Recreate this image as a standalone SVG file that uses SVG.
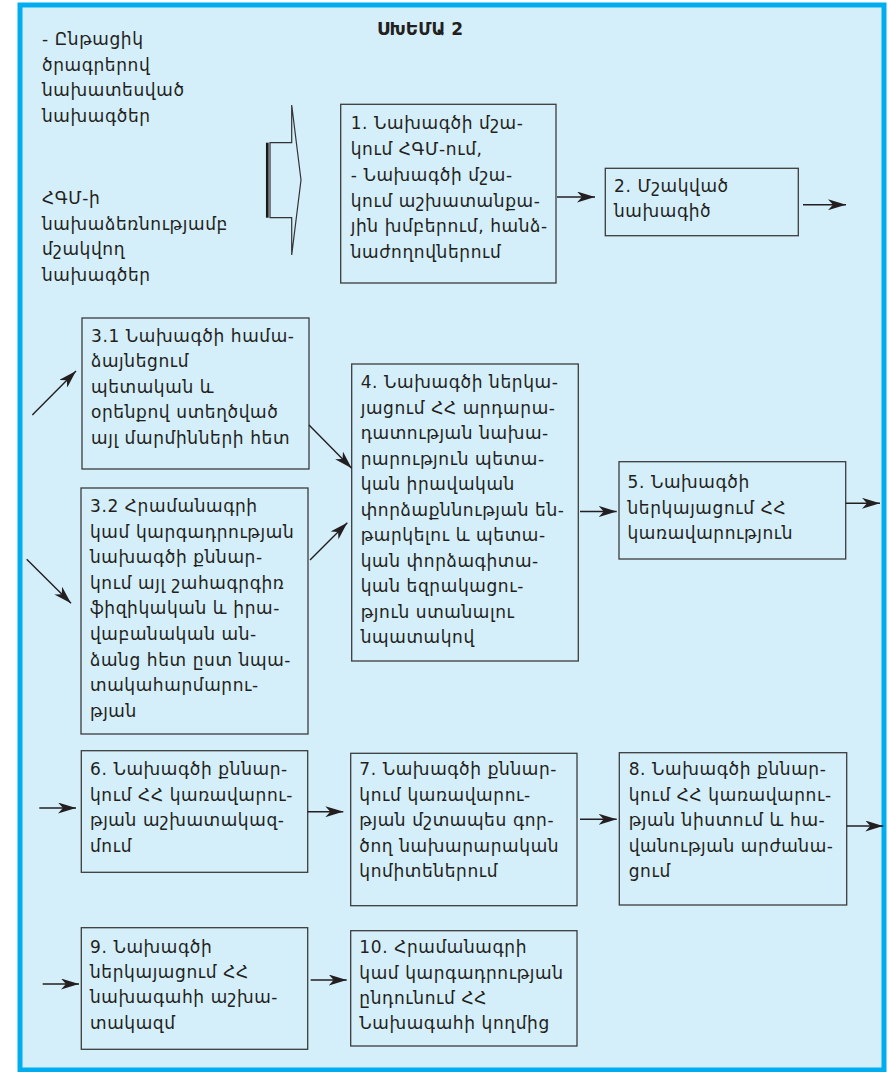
<svg xmlns="http://www.w3.org/2000/svg" width="888" height="1072" viewBox="0 0 888 1072">
<defs>
<style>
.bg{fill:#d4eefa;stroke:#00aeef;stroke-width:5}
.box{fill:#d4eefa;stroke:#3c3c3c;stroke-width:1.3}
.t{font-family:"DejaVu Sans",sans-serif;font-size:17px;letter-spacing:0.6px;fill:#231f20}
.title{font-family:"DejaVu Sans",sans-serif;font-size:17px;font-weight:bold;fill:#231f20}
.c line{stroke:#231f20;stroke-width:1.4;marker-end:url(#ah)}
</style>
<marker id="ah" viewBox="0 0 18 11" refX="18" refY="5.5" markerWidth="18" markerHeight="11" markerUnits="userSpaceOnUse" orient="auto">
<path d="M0,0 L18,5.5 L0,11 L5,5.5 Z" fill="#231f20"/>
</marker>
</defs>
<rect class="bg" x="20" y="5" width="864" height="1065"/>
<text class="title" x="377" y="35">ՍԽԵՄԱ 2</text>

<g id="sources">
<text class="t"><tspan x="42" y="45">- Ընթացիկ</tspan><tspan x="42" y="70.5">ծրագրերով</tspan><tspan x="42" y="96">նախատեսված</tspan><tspan x="42" y="121.5">նախագծեր</tspan></text>
<text class="t"><tspan x="42" y="204">ՀԳՄ-ի</tspan><tspan x="42" y="229.5">նախաձեռնությամբ</tspan><tspan x="42" y="255">մշակվող</tspan><tspan x="42" y="280.5">նախագծեր</tspan></text>
</g>

<g id="big-arrow">
<line x1="267.3" y1="142.7" x2="267.3" y2="217.7" stroke="#1a1a1a" stroke-width="2.7"/>
<polygon points="270,142.7 291.7,142.7 291.7,105 301,180 291.7,255 291.7,217.7 270,217.7 Z" fill="none" stroke="#333" stroke-width="1.2"/>
</g>

<g id="n1">
<rect class="box" x="340.7" y="104.3" width="215.3" height="178.7"/>
<text class="t"><tspan x="350.7" y="129">1. Նախագծի մշա-</tspan><tspan x="350.7" y="155">կում ՀԳՄ-ում,</tspan><tspan x="350.7" y="181">- Նախագծի մշա-</tspan><tspan x="350.7" y="206.7">կում աշխատանքա-</tspan><tspan x="350.7" y="232.3">յին խմբերում, հանձ-</tspan><tspan x="350.7" y="258">նաժողովներում</tspan></text>
</g>

<g id="n2">
<rect class="box" x="605.3" y="168.3" width="193" height="67.4"/>
<text class="t"><tspan x="614" y="191.7">2. Մշակված</tspan><tspan x="614" y="217">նախագիծ</tspan></text>
</g>

<g id="n3-1">
<rect class="box" x="82" y="318" width="227" height="151"/>
<text class="t"><tspan x="91" y="342">3.1 Նախագծի համա-</tspan><tspan x="91" y="367.3">ձայնեցում</tspan><tspan x="91" y="392.7">պետական և</tspan><tspan x="91" y="418">օրենքով ստեղծված</tspan><tspan x="91" y="443.5">այլ մարմինների հետ</tspan></text>
</g>

<g id="n3-2">
<rect class="box" x="81" y="488" width="227" height="246"/>
<text class="t"><tspan x="90" y="512">3.2 Հրամանագրի</tspan><tspan x="90" y="537.6">կամ կարգադրության</tspan><tspan x="90" y="563.2">նախագծի քննար-</tspan><tspan x="90" y="588.8">կում այլ շահագրգիռ</tspan><tspan x="90" y="614.4">ֆիզիկական և իրա-</tspan><tspan x="90" y="640">վաբանական ան-</tspan><tspan x="90" y="665.6">ձանց հետ ըստ նպա-</tspan><tspan x="90" y="691.2">տակահարմարու-</tspan><tspan x="90" y="716.8">թյան</tspan></text>
</g>

<g id="n4">
<rect class="box" x="351.7" y="364" width="226.6" height="297"/>
<text class="t"><tspan x="360.7" y="388.3">4. Նախագծի ներկա-</tspan><tspan x="360.7" y="413.8">յացում ՀՀ արդարա-</tspan><tspan x="360.7" y="439.3">դատության նախա-</tspan><tspan x="360.7" y="464.8">րարություն պետա-</tspan><tspan x="360.7" y="490.3">կան իրավական</tspan><tspan x="360.7" y="515.8">փորձաքննության են-</tspan><tspan x="360.7" y="541.3">թարկելու և պետա-</tspan><tspan x="360.7" y="566.8">կան փորձագիտա-</tspan><tspan x="360.7" y="592.3">կան եզրակացու-</tspan><tspan x="360.7" y="617.8">թյուն ստանալու</tspan><tspan x="360.7" y="643.3">նպատակով</tspan></text>
</g>

<g id="n5">
<rect class="box" x="619" y="461.7" width="226.7" height="97.3"/>
<text class="t"><tspan x="627.5" y="488">5. Նախագծի</tspan><tspan x="627.5" y="513.5">ներկայացում ՀՀ</tspan><tspan x="627.5" y="539">կառավարություն</tspan></text>
</g>

<g id="n6">
<rect class="box" x="81.3" y="750.7" width="226.4" height="121.6"/>
<text class="t"><tspan x="90" y="775">6. Նախագծի քննար-</tspan><tspan x="90" y="800.6">կում ՀՀ կառավարու-</tspan><tspan x="90" y="826.2">թյան աշխատակազ-</tspan><tspan x="90" y="851.8">մում</tspan></text>
</g>

<g id="n7">
<rect class="box" x="350.7" y="753.3" width="226.3" height="152.4"/>
<text class="t"><tspan x="359.3" y="775">7. Նախագծի քննար-</tspan><tspan x="359.3" y="800.6">կում կառավարու-</tspan><tspan x="359.3" y="826.2">թյան մշտապես գոր-</tspan><tspan x="359.3" y="851.8">ծող նախարարական</tspan><tspan x="359.3" y="877.4">կոմիտեներում</tspan></text>
</g>

<g id="n8">
<rect class="box" x="619.3" y="752.7" width="227.4" height="152.3"/>
<text class="t"><tspan x="628.7" y="775">8. Նախագծի քննար-</tspan><tspan x="628.7" y="800.6">կում ՀՀ կառավարու-</tspan><tspan x="628.7" y="826.2">թյան նիստում և հա-</tspan><tspan x="628.7" y="851.8">վանության արժանա-</tspan><tspan x="628.7" y="877.4">ցում</tspan></text>
</g>

<g id="n9">
<rect class="box" x="81.3" y="927.7" width="226.4" height="121.6"/>
<text class="t"><tspan x="90" y="952.7">9. Նախագծի</tspan><tspan x="90" y="978">ներկայացում ՀՀ</tspan><tspan x="90" y="1003.3">նախագահի աշխա-</tspan><tspan x="90" y="1028.6">տակազմ</tspan></text>
</g>

<g id="n10">
<rect class="box" x="350.7" y="930.7" width="226.3" height="115.3"/>
<text class="t"><tspan x="359.3" y="953.3">10. Հրամանագրի</tspan><tspan x="359.3" y="978.6">կամ կարգադրության</tspan><tspan x="359.3" y="1003.9">ընդունում ՀՀ</tspan><tspan x="359.3" y="1029.2">Նախագահի կողմից</tspan></text>
</g>

<g id="connectors" class="c">
<line x1="557" y1="197" x2="595" y2="197"/>
<line x1="803" y1="204.7" x2="846" y2="204.7"/>
<line x1="32.3" y1="415" x2="76" y2="371"/>
<line x1="26.7" y1="559.3" x2="71" y2="603.3"/>
<line x1="309" y1="425" x2="351.7" y2="468.3"/>
<line x1="310" y1="560" x2="347.3" y2="522.7"/>
<line x1="580" y1="511.5" x2="616.7" y2="511.5"/>
<line x1="845.7" y1="503.3" x2="880" y2="503.3"/>
<line x1="39.3" y1="808" x2="76" y2="808"/>
<line x1="307.7" y1="811.7" x2="343.3" y2="811.7"/>
<line x1="580" y1="819.3" x2="616.7" y2="819.3"/>
<line x1="846.7" y1="826" x2="883.3" y2="826"/>
<line x1="42.7" y1="984" x2="79" y2="984"/>
<line x1="310.7" y1="980" x2="346.7" y2="980"/>
</g>
</svg>
